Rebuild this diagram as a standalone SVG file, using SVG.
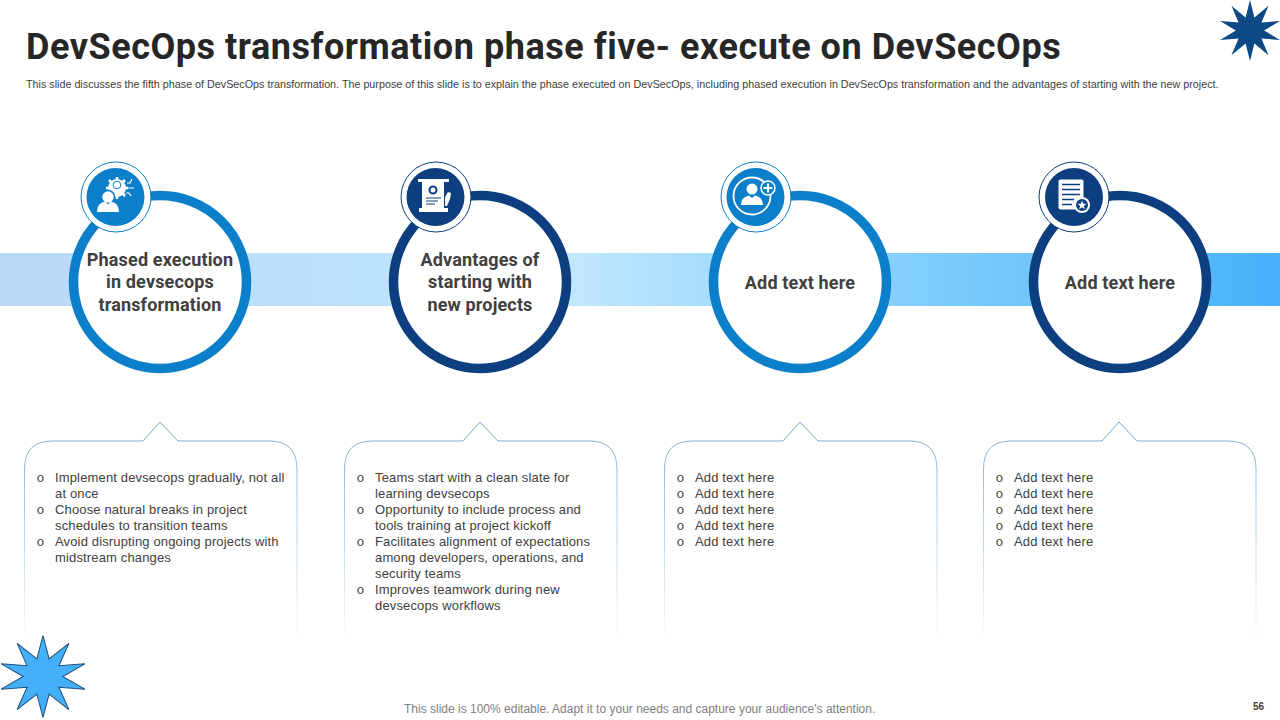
<svg xmlns="http://www.w3.org/2000/svg" xmlns:xlink="http://www.w3.org/1999/xlink" width="1280" height="720" viewBox="0 0 1280 720">
<style>
text{font-family:"Liberation Sans",Arial,sans-serif;fill:#404040}
.title{font-family:Roboto,"Liberation Sans",sans-serif;font-weight:700;font-size:36px;letter-spacing:.54px;fill:#262626}
.sub{font-size:10.76px;fill:#404040}
.head{font-family:Roboto,"Liberation Sans",sans-serif;font-weight:700;font-size:18px;letter-spacing:.15px;text-anchor:middle;fill:#404040}
.body{font-size:13px;letter-spacing:.15px}
.bul{font-family:"Liberation Mono",monospace;font-size:13px;fill:#404040}
.ringA{fill:#fff;stroke:#0b7fc9;stroke-width:9.5}
.ringB{fill:#fff;stroke:#0d3f80;stroke-width:9.5}
.halo{fill:#fff;stroke-width:1}
.w{fill:#fff}
</style>
<defs>
<linearGradient id="band" x1="0" x2="1" y1="0" y2="0">
<stop offset="0" stop-color="#bbd7f6"/>
<stop offset=".2" stop-color="#bcdffb"/>
<stop offset=".45" stop-color="#c0e7fd"/>
<stop offset=".7" stop-color="#85cffb"/>
<stop offset="1" stop-color="#48b1fb"/>
</linearGradient>
<linearGradient id="cardStroke" gradientUnits="userSpaceOnUse" x1="0" x2="0" y1="422" y2="645">
<stop offset="0" stop-color="#6fa6d2"/>
<stop offset=".35" stop-color="#a9cbe4"/>
<stop offset="1" stop-color="#ffffff"/>
</linearGradient>
<polygon id="star" points="0,-100 13.9,-42.8 58.8,-80.9 36.4,-26.5 95.1,-30.9 45,0 95.1,30.9 36.4,26.5 58.8,80.9 13.9,42.8 0,100 -13.9,42.8 -58.8,80.9 -36.4,26.5 -95.1,30.9 -45,0 -95.1,-30.9 -36.4,-26.5 -58.8,-80.9 -13.9,-42.8"/>
<path id="cardShape" d="M0.500,645 V469 Q0.500,441 28,441 H119 L136,422 L154,441 H245 Q273,441 273,469 V645"/>
</defs>

<rect id="band-bar" x="0" y="253" width="1280" height="53" fill="url(#band)"/>

<g id="title-block">
<text class="title" x="26" y="59">DevSecOps transformation phase five- execute on DevSecOps</text>
<text class="sub" x="26" y="88">This slide discusses the fifth phase of DevSecOps transformation. The purpose of this slide is to explain the phase executed on DevSecOps, including phased execution in DevSecOps transformation and the advantages of starting with the new project.</text>
</g>

<g id="star-top"><use href="#star" transform="translate(1250 30.500) scale(.315 .305)" fill="#0d4a85"/></g>
<g id="star-bottom"><use href="#star" transform="translate(43 676.500) scale(.44 .41)" fill="#45b0fa" stroke="#1f4e79" stroke-width="2.400"/></g>

<g id="connectors"></g>

<g id="node-1">
<circle class="ringA" cx="160" cy="282" r="86.500"/>
<circle class="halo" cx="116" cy="197" r="35" stroke="#0b7fc9"/>
<circle cx="115.500" cy="197" r="29" fill="#0b7fc9"/>
<g class="icon">
<circle class="w" cx="117" cy="188" r="9"/>
<path d="M117,177 v22 M106,188 h22 M109,180 l16,16 M125,180 l-16,16" stroke="#fff" stroke-width="2.500"/>
<circle cx="117" cy="185" r="3.800" fill="#fff" stroke="#0b7fc9" stroke-width="1"/>
<path d="M127,183 h3 l2,-4 M128,188 h6 M126,193 h3 l2,3" stroke="#fff" stroke-width="1.200" fill="none"/>
<circle cx="108" cy="197" r="6.500" fill="#fff" stroke="#0b7fc9" stroke-width="1.500"/>
<path d="M97,212 q0,-9 8,-10.500 l3,3 l3,-3 q8,1.500 8,10.500z" fill="#fff"/>
</g>
<text class="head" x="160" y="266">Phased execution</text>
<text class="head" x="160" y="288">in devsecops</text>
<text class="head" x="160" y="311">transformation</text>
</g>

<g id="node-2">
<circle class="ringB" cx="480" cy="282" r="86.500"/>
<circle class="halo" cx="436" cy="197" r="35" stroke="#0d3f80"/>
<circle cx="435.500" cy="197" r="29" fill="#0d3f80"/>
<g class="icon">
<rect class="w" x="418" y="179" width="31" height="3"/>
<rect class="w" x="422" y="182" width="22" height="26"/>
<circle cx="433" cy="190" r="3.500" fill="none" stroke="#0d3f80" stroke-width="2"/>
<path d="M426,198 h15 M426,201 h12 M426,204 h9" stroke="#0d3f80" stroke-width="1"/>
<rect class="w" x="419" y="208" width="29" height="4"/>
<path d="M445,206 l0,-9 l3,-5 l3,1 l-1,6 l-3,7z" fill="#fff"/>
</g>
<text class="head" x="480" y="266">Advantages of</text>
<text class="head" x="480" y="288">starting with</text>
<text class="head" x="480" y="311">new projects</text>
</g>

<g id="node-3">
<circle class="ringA" cx="800" cy="282" r="86.500"/>
<circle class="halo" cx="756" cy="197" r="35" stroke="#0b7fc9"/>
<circle cx="755.500" cy="197" r="29" fill="#0b7fc9"/>
<g class="icon">
<circle cx="752" cy="196" r="18.500" fill="none" stroke="#fff" stroke-width="1.800"/>
<circle class="w" cx="752" cy="189" r="5.500"/>
<path d="M741,205 q0,-8 8,-9.500 l3,2.500 l3,-2.500 q8,1.500 8,9.500z" fill="#fff"/>
<circle cx="768" cy="188" r="7" fill="#0b7fc9" stroke="#fff" stroke-width="1.500"/>
<path d="M768,183.500 v9 M763.500,188 h9" stroke="#fff" stroke-width="2.200"/>
</g>
<text class="head" x="800" y="289">Add text here</text>
</g>

<g id="node-4">
<circle class="ringB" cx="1120" cy="282" r="86.500"/>
<circle class="halo" cx="1074" cy="197" r="35" stroke="#0d3f80"/>
<circle cx="1074" cy="197" r="29" fill="#0d3f80"/>
<g class="icon">
<rect x="1058.500" y="179.500" width="25" height="30" rx="2" fill="#fff"/>
<path d="M1062,184.500 h18 M1062,189.500 h18 M1062,194.500 h18 M1062,199.500 h12 M1062,204.500 h10" stroke="#0d3f80" stroke-width="1.300"/>
<circle cx="1082" cy="205" r="8" fill="#fff"/>
<circle cx="1082" cy="205" r="6" fill="#0d3f80"/>
<polygon points="1082,200.500 1083.200,203.700 1086.500,203.800 1083.900,205.900 1084.800,209.200 1082,207.300 1079.200,209.200 1080.100,205.900 1077.500,203.800 1080.800,203.700" fill="#fff"/>
</g>
<text class="head" x="1120" y="289">Add text here</text>
</g>

<g id="card-1">
<use href="#cardShape" x="24" fill="none" stroke="url(#cardStroke)"/>
<text class="bul" x="36.500" y="482">o</text>
<text class="body" x="55" y="482">Implement devsecops gradually, not all</text>
<text class="body" x="55" y="498">at once</text>
<text class="bul" x="36.500" y="514">o</text>
<text class="body" x="55" y="514">Choose natural breaks in project</text>
<text class="body" x="55" y="530">schedules to transition teams</text>
<text class="bul" x="36.500" y="546">o</text>
<text class="body" x="55" y="546">Avoid disrupting ongoing projects with</text>
<text class="body" x="55" y="562">midstream changes</text>
</g>

<g id="card-2">
<use href="#cardShape" x="344" fill="none" stroke="url(#cardStroke)"/>
<text class="bul" x="356.500" y="482">o</text>
<text class="body" x="375" y="482">Teams start with a clean slate for</text>
<text class="body" x="375" y="498">learning devsecops</text>
<text class="bul" x="356.500" y="514">o</text>
<text class="body" x="375" y="514">Opportunity to include process and</text>
<text class="body" x="375" y="530">tools training at project kickoff</text>
<text class="bul" x="356.500" y="546">o</text>
<text class="body" x="375" y="546">Facilitates alignment of expectations</text>
<text class="body" x="375" y="562">among developers, operations, and</text>
<text class="body" x="375" y="578">security teams</text>
<text class="bul" x="356.500" y="594">o</text>
<text class="body" x="375" y="594">Improves teamwork during new</text>
<text class="body" x="375" y="610">devsecops workflows</text>
</g>

<g id="card-3">
<use href="#cardShape" x="664" fill="none" stroke="url(#cardStroke)"/>
<text class="bul" x="676.500" y="482">o</text><text class="body" x="695" y="482">Add text here</text>
<text class="bul" x="676.500" y="498">o</text><text class="body" x="695" y="498">Add text here</text>
<text class="bul" x="676.500" y="514">o</text><text class="body" x="695" y="514">Add text here</text>
<text class="bul" x="676.500" y="530">o</text><text class="body" x="695" y="530">Add text here</text>
<text class="bul" x="676.500" y="546">o</text><text class="body" x="695" y="546">Add text here</text>
</g>

<g id="card-4">
<use href="#cardShape" x="983" fill="none" stroke="url(#cardStroke)"/>
<text class="bul" x="995.500" y="482">o</text><text class="body" x="1014" y="482">Add text here</text>
<text class="bul" x="995.500" y="498">o</text><text class="body" x="1014" y="498">Add text here</text>
<text class="bul" x="995.500" y="514">o</text><text class="body" x="1014" y="514">Add text here</text>
<text class="bul" x="995.500" y="530">o</text><text class="body" x="1014" y="530">Add text here</text>
<text class="bul" x="995.500" y="546">o</text><text class="body" x="1014" y="546">Add text here</text>
</g>

<g id="footer">
<text x="404" y="713" font-size="12" style="fill:#7f7f7f">This slide is 100% editable. Adapt it to your needs and capture your audience's attention.</text>
<text x="1253" y="710" font-size="10" font-weight="700" style="fill:#404040">56</text>
</g>
</svg>
